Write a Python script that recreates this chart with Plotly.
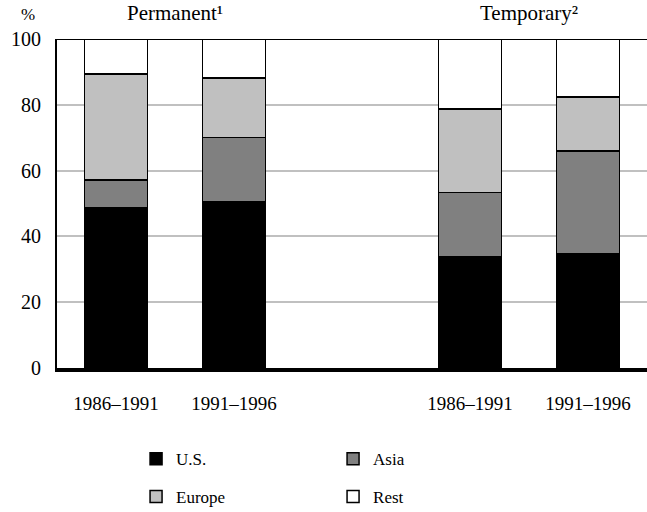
import plotly.graph_objects as go

# slots on the x axis: two permanent periods, an empty slot, two temporary periods
slots = [0, 1, 3, 4]
periods = ["1986–1991", "1991–1996", "1986–1991", "1991–1996"]
groups = ["Permanent¹", "Temporary²"]
group_centers = [0.5, 3.5]

# shares (%)
us = [48.8, 50.6, 33.9, 34.6]
asia = [8.3, 19.4, 19.4, 31.4]
europe = [32.3, 18.1, 25.5, 16.4]
rest = [10.6, 11.9, 21.2, 17.6]

series = [
    ("U.S.", us, "#000000", "legend"),
    ("Asia", asia, "#808080", "legend"),
    ("Europe", europe, "#c0c0c0", "legend2"),
    ("Rest", rest, "#ffffff", "legend2"),
]

serif = "Liberation Serif, Times New Roman, serif"

fig = go.Figure()
for name, vals, color, leg in series:
    fig.add_trace(go.Bar(
        x=slots, y=vals, name=name, width=0.534,
        marker=dict(color=color, line=dict(color="black", width=1.5)),
        legend=leg,
    ))

for label, cx in zip(groups, group_centers):
    fig.add_annotation(x=cx, y=1, xref="x", yref="paper", text=label,
                       showarrow=False, yanchor="bottom", yshift=12,
                       font=dict(size=21, color="black", family=serif))
fig.add_annotation(x=0, y=1, xref="paper", yref="paper", text="%",
                   showarrow=False, yanchor="bottom", xanchor="center",
                   xshift=-29, yshift=13,
                   font=dict(size=17, color="black", family=serif))

# black frame line at the top of the plot
fig.add_shape(type="line", xref="paper", yref="y", x0=0, x1=1, y0=100, y1=100,
              line=dict(color="black", width=2))

legend_style = dict(orientation="h", xanchor="left", yanchor="middle",
                    entrywidth=152, entrywidthmode="pixels",
                    traceorder="normal", itemwidth=30,
                    font=dict(size=17, color="black", family=serif),
                    bgcolor="rgba(0,0,0,0)", itemclick=False)

fig.update_layout(
    barmode="stack",
    width=647, height=512,
    margin=dict(l=57, r=0, t=39, b=144, autoexpand=False),
    plot_bgcolor="white", paper_bgcolor="white",
    font=dict(family=serif, color="black"),
    legend=dict(x=0.134, y=-0.277, **legend_style),
    legend2=dict(x=0.134, y=-0.392, **legend_style),
    xaxis=dict(range=[-0.5, 4.5], tickvals=slots, ticktext=periods,
               showgrid=False, zeroline=False, showline=True,
               linecolor="black", linewidth=4, ticks="",
               ticklabelstandoff=15, tickfont=dict(size=19, family=serif)),
    yaxis=dict(range=[0, 100], tickvals=[0, 20, 40, 60, 80, 100],
               showgrid=True, gridcolor="#c0c0c0", gridwidth=2,
               zeroline=False, showline=True, linecolor="black", linewidth=2,
               ticks="", ticklabelstandoff=10,
               tickfont=dict(size=20, family=serif)),
)

# drop the browser's default page margin so the figure fills the window
fig.write_html("out.html", config={"displayModeBar": False},
               post_script="document.body.style.margin='0';")
